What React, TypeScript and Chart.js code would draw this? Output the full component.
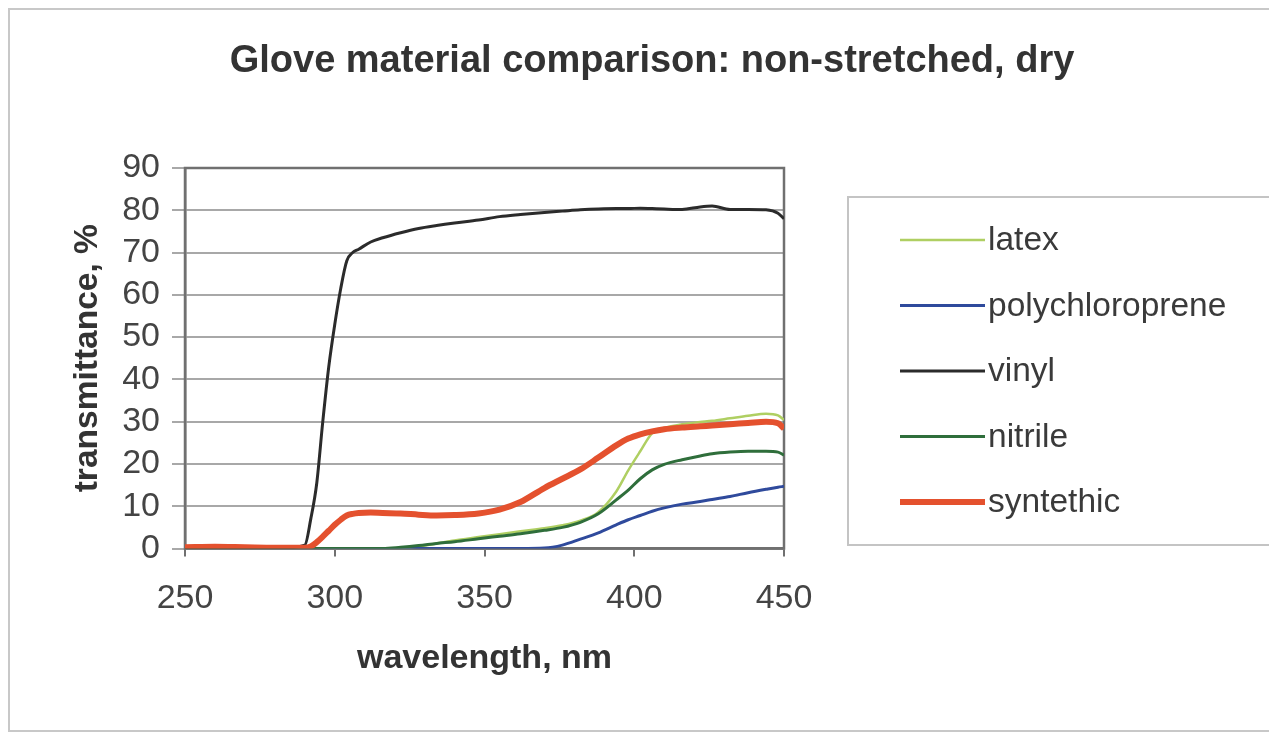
import React, { useEffect, useRef } from "react";
import { Chart, registerables } from "chart.js";

Chart.register(...registerables);

const chartTitle = "Glove material comparison: non-stretched, dry";
const xAxisTitle = "wavelength, nm";
const yAxisTitle = "transmittance, %";

const wavelengths = [
  250, 260, 270, 280, 290, 292, 294, 296, 298, 300, 302, 304, 306, 308, 312, 316, 322, 328, 334, 340,
  348, 355, 362, 370, 376, 382, 388, 394, 398, 402, 406, 410, 416, 422, 426, 432, 438, 444, 448, 450,
];

const latex = [
  0, 0, 0, 0, 0, 0, 0, 0, 0, 0, 0, 0, 0, 0, 0, 0, 0.1, 0.5, 1.2, 1.9,
  2.7, 3.4, 4.1, 4.8, 5.5, 6.6, 8.6, 13.5, 18.5, 23, 27.3, 28.5, 29.4, 29.9, 30.2, 30.8, 31.4, 31.9, 31.5, 30.4,
];
const polychloroprene = [
  0, 0, 0, 0, 0, 0, 0, 0, 0, 0, 0, 0, 0, 0, 0, 0, 0, 0, 0, 0,
  0, 0, 0, 0.1, 0.8, 2.2, 3.7, 5.6, 6.8, 7.8, 8.8, 9.6, 10.5, 11.1, 11.6, 12.3, 13.2, 14, 14.5, 14.7,
];
const vinyl = [
  0, 0.2, 0.2, 0, 0.8, 7, 15.5, 30, 43, 53, 61.5, 68, 70, 70.8, 72.5, 73.5, 74.7, 75.7, 76.4, 77,
  77.7, 78.5, 79, 79.5, 79.8, 80.1, 80.3, 80.4, 80.4, 80.5, 80.4, 80.3, 80.2, 80.8, 81, 80.2, 80.2, 80.1, 79.3, 78,
];
const nitrile = [
  0, 0, 0, 0, 0, 0, 0, 0, 0, 0, 0, 0, 0, 0, 0, 0, 0.3, 0.7, 1.2, 1.6,
  2.3, 2.9, 3.5, 4.3, 5, 6.2, 8.2, 11.5, 13.8, 16.5, 18.6, 19.9, 21, 21.9, 22.4, 22.8, 23, 23, 22.8, 22.1,
];
const syntethic = [
  0.3, 0.4, 0.3, 0.2, 0.2, 0.5, 1.5, 2.8, 4.2, 5.6, 6.8, 7.8, 8.2, 8.4, 8.5, 8.4, 8.3, 8.0, 7.8, 7.9,
  8.3, 9.2, 11, 14.3, 16.5, 18.7, 21.5, 24.4, 26, 27, 27.7, 28.2, 28.6, 28.9, 29.1, 29.4, 29.7, 30, 29.6, 28.4,
];

const seriesLabels = ["latex", "polychloroprene", "vinyl", "nitrile", "syntethic"];
const seriesValues = [latex, polychloroprene, vinyl, nitrile, syntethic];
const seriesColors = ["#afcf62", "#2f4a9c", "#2b2b2b", "#2f6e3b", "#e4512e"];
const seriesWidths = [2.5, 3, 3, 3, 6];
const seriesOrder = [4, 3, 2, 1, 0];

const xMin = 250;
const xMax = 450;
const xStep = 50;
const yMin = 0;
const yMax = 90;
const yStep = 10;

const FONT = "'Liberation Sans', Arial, Helvetica, sans-serif";

const decorPlugin = {
  id: "decor",
  beforeDraw(chart: any) {
    const { ctx, width, height } = chart;
    ctx.save();
    ctx.fillStyle = "#ffffff";
    ctx.fillRect(0, 0, width, height);
    ctx.strokeStyle = "#c8c8c8";
    ctx.lineWidth = 2;
    ctx.strokeRect(9, 9, width + 20, height - 12);
    ctx.restore();
  },
  beforeDatasetsDraw(chart: any) {
    const { ctx, chartArea } = chart;
    ctx.save();
    ctx.strokeStyle = "#707070";
    ctx.lineWidth = 2.5;
    ctx.strokeRect(chartArea.left, chartArea.top, chartArea.right - chartArea.left, chartArea.bottom - chartArea.top);
    ctx.restore();
  },
  afterDraw(chart: any) {
    const { ctx } = chart;
    ctx.save();
    // title
    ctx.fillStyle = "#333333";
    ctx.font = `bold 38px ${FONT}`;
    ctx.textAlign = "center";
    ctx.textBaseline = "middle";
    ctx.fillText(chartTitle, 652, 62);

    // legend box
    const boxLeft = 848;
    const boxTop = 197;
    const boxBottom = 545;
    ctx.strokeStyle = "#c4c4c4";
    ctx.lineWidth = 2;
    ctx.strokeRect(boxLeft, boxTop, chart.width + 20 - boxLeft, boxBottom - boxTop);

    const items = chart.data.datasets;
    const gap = (boxBottom - boxTop - 2 * 43) / (items.length - 1);
    ctx.font = `33.5px ${FONT}`;
    ctx.textAlign = "left";
    ctx.textBaseline = "middle";
    items.forEach((ds: any, i: number) => {
      const y = boxTop + 43 + i * gap;
      ctx.strokeStyle = ds.borderColor;
      ctx.lineWidth = ds.borderWidth;
      ctx.beginPath();
      ctx.moveTo(900, y);
      ctx.lineTo(985, y);
      ctx.stroke();
      ctx.fillStyle = "#3a3a3a";
      ctx.fillText(ds.label, 988, y + 1);
    });
    ctx.restore();
  },
};

export default function App() {
  const canvasRef = useRef<HTMLCanvasElement | null>(null);

  useEffect(() => {
    if (!canvasRef.current) return;
    const datasets = seriesLabels.map((label, i) => ({
      label,
      data: wavelengths.map((w, j) => ({ x: w, y: seriesValues[i][j] })),
      borderColor: seriesColors[i],
      backgroundColor: seriesColors[i],
      borderWidth: seriesWidths[i],
      pointRadius: 0,
      cubicInterpolationMode: "monotone" as const,
      fill: false,
      order: seriesOrder[i],
    }));

    const chart = new Chart(canvasRef.current, {
      type: "line",
      data: { datasets },
      plugins: [decorPlugin],
      options: {
        animation: false,
        responsive: false,
        devicePixelRatio: 1,
        layout: { padding: { left: 68, top: 168, right: 485, bottom: 55 } },
        plugins: {
          legend: { display: false },
          title: { display: false },
          tooltip: { enabled: false },
        },
        scales: {
          x: {
            type: "linear",
            min: xMin,
            max: xMax,
            afterFit: (scale: any) => {
              scale.height = 130.5;
            },
            ticks: {
              stepSize: xStep,
              padding: 22,
              autoSkip: false,
              color: "#444444",
              font: { family: FONT, size: 34 },
            },
            grid: {
              drawOnChartArea: false,
              drawTicks: true,
              tickLength: 8,
              color: "#707070",
              lineWidth: 2,
            },
            border: { display: true, color: "#707070", width: 2.5 },
            title: {
              display: true,
              text: xAxisTitle,
              color: "#333333",
              font: { family: FONT, size: 34, weight: "bold" },
              padding: { top: 0, bottom: 0 },
            },
          },
          y: {
            type: "linear",
            min: yMin,
            max: yMax,
            afterFit: (scale: any) => {
              scale.width = 117;
            },
            ticks: {
              stepSize: yStep,
              padding: 12,
              autoSkip: false,
              color: "#444444",
              font: { family: FONT, size: 34, lineHeight: 1 },
            },
            grid: {
              drawTicks: true,
              tickLength: 13,
              color: "#a8a8a8",
              lineWidth: 2,
            },
            border: { display: true, color: "#707070", width: 2.5 },
            title: {
              display: true,
              text: yAxisTitle,
              color: "#333333",
              font: { family: FONT, size: 33.5, weight: "bold" },
              padding: { top: 0, bottom: 0 },
            },
          },
        },
      },
    });
    return () => chart.destroy();
  }, []);

  return (
    <div style={{ position: "absolute", left: 0, top: 0, width: 1269, height: 734 }}>
      <canvas ref={canvasRef} width={1269} height={734} style={{ width: 1269, height: 734 }} />
    </div>
  );
}
